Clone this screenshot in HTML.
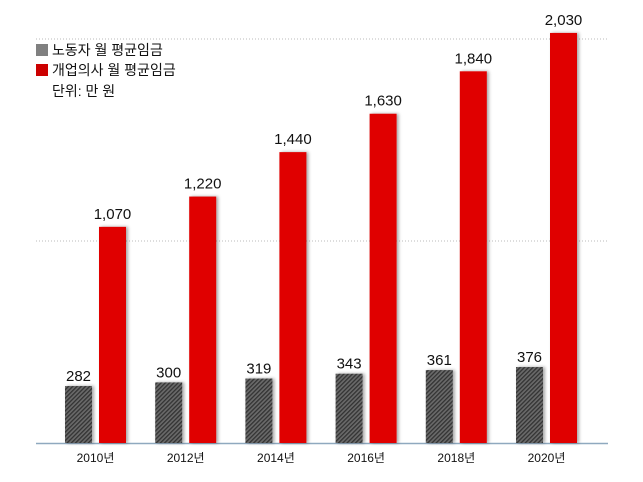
<!DOCTYPE html>
<html><head><meta charset="utf-8"><style>
html,body{margin:0;padding:0;background:#fff;}
svg{display:block;font-family:"Liberation Sans","Noto Sans CJK KR",sans-serif;}
</style></head><body>
<svg id="chart" width="643" height="482" viewBox="0 0 643 482">
<defs>
<pattern id="hatch" width="3" height="3" patternUnits="userSpaceOnUse" patternTransform="rotate(45)">
<rect width="3" height="3" fill="#6a6a6a"/><rect width="1.3" height="3" fill="#333"/>
</pattern>
<filter id="sh" x="-20%" y="-5%" width="150%" height="110%"><feDropShadow dx="2" dy="0" stdDeviation="1.5" flood-color="#000" flood-opacity="0.35"/></filter>
</defs>
<g id="grid"></g>
<g id="bars"></g>
<g id="legend">
<rect x="36" y="44" width="12" height="12" fill="#808080"/>
<text x="52" y="55" font-size="14" fill="#111">노동자 월 평균임금</text>
<rect x="36" y="64" width="12" height="12" fill="#cc0000"/>
<text x="52" y="75" font-size="14" fill="#111">개업의사 월 평균임금</text>
<text x="52" y="96" font-size="14" fill="#111">단위: 만 원</text>
</g>
</svg>
<script>
const categories=["2010년","2012년","2014년","2016년","2018년","2020년"];
const workerWage=[282,300,319,343,361,376];
const doctorWage=[1070,1220,1440,1630,1840,2030];
const gridValues=[1000,2000];
const labels=["282","300","319","343","361","376"];
const labels2=["1,070","1,220","1,440","1,630","1,840","2,030"];

const NS="http://www.w3.org/2000/svg";
const base=443, k=0.202, x0=95.5, step=90.2, bw=27;
const y=v=>base-v*k;
const cx=i=>x0+i*step;
function mk(tag,attrs,parent){const e=document.createElementNS(NS,tag);for(const a in attrs)e.setAttribute(a,attrs[a]);parent.appendChild(e);return e;}
const grid=document.getElementById('grid'), bars=document.getElementById('bars');
gridValues.forEach(v=>{
  const l=mk('line',{x1:36,x2:608,y1:y(v),y2:y(v),stroke:'#bbb','stroke-dasharray':'1 2','stroke-width':1},grid);
  
  
});
const ax=mk('line',{x1:36,x2:608,y1:base+0.5,y2:base+0.5,stroke:'#8fa9bf','stroke-width':1.5},grid);


categories.forEach((c,i)=>{
  const gx=cx(i)-bw-3.5, rx=cx(i)+3.5;
  const g=mk('rect',{x:gx,y:y(workerWage[i]),width:bw,height:base-y(workerWage[i]),fill:'url(#hatch)',filter:'url(#sh)'},bars);
  
  
  const r=mk('rect',{x:rx,y:y(doctorWage[i]),width:bw,height:base-y(doctorWage[i]),fill:'#e00000',filter:'url(#sh)'},bars);
  
  
  const t1=mk('text',{x:gx+bw/2,y:y(workerWage[i])-5,'font-size':15,'text-anchor':'middle',fill:'#111'},bars);
  t1.textContent=labels[i];
  
  
  const t2=mk('text',{x:rx+bw/2,y:y(doctorWage[i])-8,'font-size':15,'text-anchor':'middle',fill:'#111'},bars);
  t2.textContent=labels2[i];
  
  
  const t3=mk('text',{x:cx(i),y:462,'font-size':12,'text-anchor':'middle',fill:'#111'},bars);
  t3.textContent=c;
  
  
});
</script>
</body></html>
